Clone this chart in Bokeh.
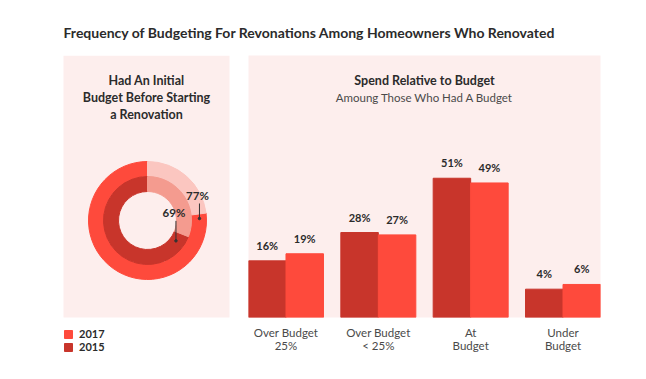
import math
from bokeh.plotting import figure
from bokeh.layouts import column, row
from bokeh.models import (ColumnDataSource, Range1d, FactorRange, Label, Legend, LegendItem,
                          BoxAnnotation)
from bokeh.transform import dodge
from bokeh.core.properties import value
from bokeh.embed import file_html
from bokeh.resources import INLINE

# ---------------- data ----------------
title_text = "Frequency of Budgeting For Revonations Among Homeowners Who Renovated"
left_title = ["Had An Initial", "Budget Before Starting", "a Renovation"]
right_title = "Spend Relative to Budget"
right_subtitle = "Amoung Those Who Had A Budget"

years = ["2017", "2015"]
had_budget = [77, 69]

categories = ["Over Budget\n25%", "Over Budget\n< 25%", "At\nBudget", "Under\nBudget"]
spend_2015 = [16, 28, 51, 4]
spend_2017 = [19, 27, 49, 6]

# ---------------- style ----------------
FONT = "Lato"
C17 = "#fe4a3c"
C15 = "#c8352b"
REST = {"2017": "#fbc6c0", "2015": "#f49b8f"}
PANEL = "#fdeeed"
DARK = "#2b2b2b"
GREY = "#4a4a4a"


def base_fig(w, h, **kw):
    p = figure(width=w, height=h, output_backend="svg", toolbar_location=None,
               title_location=None, **kw)
    p.outline_line_color = None
    p.grid.visible = False
    p.border_fill_color = "white"
    p.frame_align = False
    return p


# ---------------- title strip ----------------
tf = base_fig(646, 55, x_range=Range1d(0, 646), y_range=Range1d(0, 55),
              x_axis_location=None, y_axis_location=None,
              min_border_left=0, min_border_right=0, min_border_top=0, min_border_bottom=0)
tf.background_fill_color = "white"
tf.add_layout(Label(x=63, y=23, text=title_text, text_font=FONT, text_font_size="14px",
                    text_font_style="bold", text_color=DARK, text_baseline="middle",
                    text_align="left"))

# ---------------- left panel: donut ----------------
LW, LH = 248, 316
lf = base_fig(LW, LH, x_range=Range1d(0, LW), y_range=Range1d(0, LH),
              x_axis_location=None, y_axis_location=None,
              min_border_left=0, min_border_right=0, min_border_top=0, min_border_bottom=0)
lf.background_fill_color = "white"
lf.add_layout(BoxAnnotation(left=63, right=229, bottom=54, top=316, fill_color=PANEL,
                            fill_alpha=1, line_color=None, level="underlay"))

for i, t in enumerate(left_title):
    lf.add_layout(Label(x=146, y=291 - 17 * i, text=t, text_font=FONT, text_font_size="12.5px",
                        text_font_style="bold", text_color=DARK, text_align="center",
                        text_baseline="middle"))

CX, CY = 147, 151
ring_radii = {"2017": (44, 59), "2015": (29, 44)}
ring_color = {"2017": C17, "2015": C15}
label_geom = {"2017": (52, 5, 15), "2015": (35, 14, 20)}  # anchor radius, angle back-off (deg), line length
start = math.pi / 2
value_renderers = {}
for yr, v in zip(years, had_budget):
    r_in, r_out = ring_radii[yr]
    end = start + 2 * math.pi * v / 100
    value_renderers[yr] = lf.annular_wedge(x=[CX], y=[CY], inner_radius=r_in, outer_radius=r_out,
                                           start_angle=[start], end_angle=[end],
                                           color=ring_color[yr])
    lf.annular_wedge(x=[CX], y=[CY], inner_radius=r_in, outer_radius=r_out,
                     start_angle=[end], end_angle=[start + 2 * math.pi], color=REST[yr])
    ra, back, ln = label_geom[yr]
    a = end - math.radians(back)
    ax_, ay_ = CX + ra * math.cos(a), CY + ra * math.sin(a)
    lf.segment(x0=[ax_], y0=[ay_], x1=[ax_], y1=[ay_ + ln], line_color="#333333", line_width=1)
    lf.scatter(x=[ax_], y=[ay_], size=2.5, color="#333333")
    lf.text(x=[ax_ - 2], y=[ay_ + ln + 2], text=[f"{v}%"], text_font=value(FONT),
            text_font_size="11.5px", text_font_style="bold", text_color=DARK,
            text_align="center", text_baseline="bottom")

legend = Legend(items=[LegendItem(label=yr, renderers=[value_renderers[yr]]) for yr in years],
                location=(63, 18), orientation="vertical", glyph_width=10, glyph_height=10,
                label_height=10, spacing=0, padding=0, margin=0, label_standoff=6,
                label_text_font=FONT, label_text_font_style="bold", label_text_font_size="11px",
                label_text_color=DARK, border_line_color=None, background_fill_alpha=0)
lf.add_layout(legend)

# ---------------- right panel: bars ----------------
Y0, Y1 = -8, 103
RH = 262
ppu = RH / (Y1 - Y0)
BW = 0.406
rf = base_fig(398, 316,
              x_range=FactorRange(*categories, range_padding=-(0.5 - BW), range_padding_units="absolute"),
              y_range=Range1d(Y0, Y1), x_axis_location="below", y_axis_location=None,
              min_border_left=0, min_border_right=46, min_border_top=0, min_border_bottom=54)
rf.background_fill_color = PANEL

src = ColumnDataSource(dict(cat=categories, y15=spend_2015, y17=spend_2017,
                            l15=[f"{v}%" for v in spend_2015], l17=[f"{v}%" for v in spend_2017]))
rf.vbar(x=dodge("cat", -BW / 2, range=rf.x_range), top="y15", bottom=Y0, width=BW,
        color=C15, source=src)
rf.vbar(x=dodge("cat", BW / 2, range=rf.x_range), top="y17", bottom=Y0, width=BW,
        color=C17, source=src)
for off, col in [(-BW / 2, "l15"), (BW / 2, "l17")]:
    rf.text(x=dodge("cat", off, range=rf.x_range), y=col.replace("l", "y"), text=col, source=src,
            text_font=value(FONT), text_font_size="11px", text_font_style="bold",
            text_color=DARK, text_align="center", text_baseline="bottom", y_offset=-9)

rf.add_layout(Label(x=2.0, y=Y1 - 25 / ppu, text=right_title, text_font=FONT,
                    text_font_size="12.5px", text_font_style="bold", text_color=DARK,
                    text_align="center", text_baseline="middle"))
rf.add_layout(Label(x=2.0, y=Y1 - 42 / ppu, text=right_subtitle, text_font=FONT,
                    text_font_size="11.5px", text_color=GREY,
                    text_align="center", text_baseline="middle"))

xa = rf.xaxis[0]
xa.axis_line_color = None
xa.major_tick_line_color = None
xa.minor_tick_line_color = None
xa.major_label_text_font = FONT
xa.major_label_text_font_size = "11.5px"
xa.major_label_text_color = GREY
xa.major_label_text_line_height = 1.0
xa.major_label_standoff = 2

layout = column(tf, row(lf, rf))

open("out.html", "w").write(file_html(layout, INLINE))
